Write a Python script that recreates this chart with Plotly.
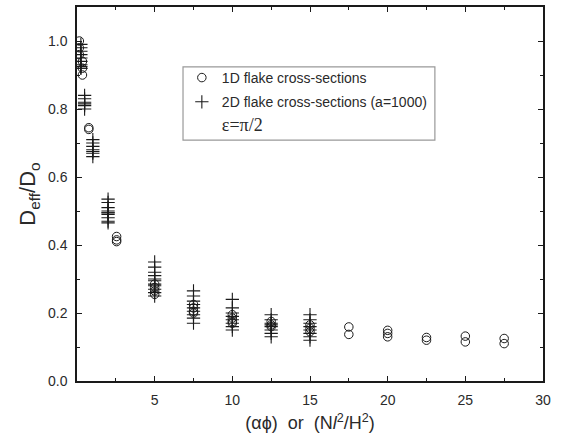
import plotly.graph_objects as go

# 1D flake cross-sections: x position and the stacked D_eff/D_o values at each
x_1d = [0.15, 0.35, 0.76, 2.55, 5, 7.5, 10, 12.5, 15, 17.5, 20, 22.5, 25, 27.5]
y_1d = [
    [1.00, 0.98, 0.96],
    [0.94, 0.92, 0.90],
    [0.745, 0.74],
    [0.425, 0.415, 0.41],
    [0.285, 0.275, 0.265, 0.255],
    [0.225, 0.215, 0.205, 0.20],
    [0.195, 0.185, 0.175, 0.17],
    [0.175, 0.165, 0.16],
    [0.165, 0.155, 0.145],
    [0.159, 0.137],
    [0.149, 0.14, 0.13],
    [0.128, 0.12],
    [0.132, 0.115],
    [0.125, 0.11],
]

# 2D flake cross-sections (a=1000)
x_2d = [0.25, 0.49, 1.02, 2.0, 5, 7.5, 10, 12.5, 15]
y_2d = [
    [0.99, 0.98, 0.97, 0.96, 0.95, 0.94, 0.93, 0.925, 0.92, 0.92],
    [0.84, 0.83, 0.82, 0.815, 0.81, 0.80],
    [0.71, 0.70, 0.69, 0.68, 0.675, 0.67, 0.66],
    [0.535, 0.525, 0.51, 0.50, 0.495, 0.495, 0.49, 0.48, 0.47, 0.465],
    [0.35, 0.335, 0.32, 0.31, 0.30, 0.295, 0.285, 0.28, 0.27, 0.26, 0.25],
    [0.265, 0.25, 0.235, 0.225, 0.215, 0.205, 0.195, 0.185, 0.17],
    [0.24, 0.215, 0.20, 0.19, 0.18, 0.17, 0.16, 0.15],
    [0.195, 0.18, 0.17, 0.165, 0.16, 0.15, 0.14, 0.13],
    [0.195, 0.18, 0.17, 0.16, 0.15, 0.14, 0.13, 0.12],
]

x_tickvals = [0, 5, 10, 15, 20, 25, 30]
x_ticktext = ["", "5", "10", "15", "20", "25", "30"]
y_tickvals = [0.0, 0.2, 0.4, 0.6, 0.8, 1.0]
y_ticktext = ["0.0", "0.2", "0.4", "0.6", "0.8", "1.0"]


def flatten(xs, groups):
    px, py = [], []
    for xv, g in zip(xs, groups):
        for yv in g:
            px.append(xv)
            py.append(yv)
    return px, py


cx, cy = flatten(x_1d, y_1d)
px_, py_ = flatten(x_2d, y_2d)

ink = "#1a1a1a"
sans = "Liberation Sans, Arial, sans-serif"

fig = go.Figure()
fig.add_trace(go.Scatter(
    x=cx, y=cy, mode="markers", name="1D flake cross-sections", legendgroup="a",
    marker=dict(symbol="circle-open", size=8.5, color=ink, line=dict(width=1, color=ink)),
))
fig.add_trace(go.Scatter(
    x=px_, y=py_, mode="markers", name="2D flake cross-sections (a=1000)", legendgroup="b",
    marker=dict(symbol="cross-thin-open", size=9.5, color=ink, line=dict(width=1.1, color=ink)),
))
fig.add_trace(go.Scatter(
    x=[None], y=[None], mode="markers", legendgroup="c",
    name='<span style="font-family:\'Liberation Serif\',serif;font-size:18px">ε=π/2</span>',
    marker=dict(color="rgba(0,0,0,0)", size=1),
))

axis_common = dict(
    showline=True, linecolor=ink, linewidth=1.5, mirror="allticks",
    ticks="inside", ticklen=5, tickwidth=1.2, tickcolor=ink,
    showgrid=False, zeroline=False, ticklabelstandoff=5,
    tickfont=dict(family=sans, size=14, color="#2a2a2a"),
)

fig.update_xaxes(
    range=[0, 30], tickmode="array", tickvals=x_tickvals, ticktext=x_ticktext,
    minor=dict(dtick=2.5, ticks="inside", ticklen=3, tickwidth=1.1, tickcolor=ink, showgrid=False),
    title=dict(text="(αϕ)&nbsp;&nbsp;or&nbsp;&nbsp;(N<i>l</i><sup>2</sup>/H<sup>2</sup>)",
               font=dict(family=sans, size=18, color="#2a2a2a"),
               standoff=10),
    **axis_common,
)
fig.update_yaxes(
    range=[0, 1.1], tickmode="array", tickvals=y_tickvals, ticktext=y_ticktext,
    minor=dict(dtick=0.1, ticks="inside", ticklen=3, tickwidth=1.1, tickcolor=ink, showgrid=False),
    title=dict(text="D<sub>eff</sub>/D<sub>o</sub>",
               font=dict(family=sans, size=22, color="#2a2a2a"),
               standoff=6),
    **axis_common,
)

fig.update_layout(
    width=563, height=438,
    margin=dict(l=77, r=20, t=5, b=57),
    paper_bgcolor="white", plot_bgcolor="white",
    showlegend=True,
    legend=dict(
        x=0.225, y=0.853, xanchor="left", yanchor="top",
        bgcolor="rgba(0,0,0,0)", borderwidth=0,
        font=dict(family=sans, size=14, color="#2a2a2a"),
        tracegroupgap=3, itemwidth=30,
    ),
    shapes=[dict(
        type="rect", xref="paper", yref="paper",
        x0=0.2275, x1=0.768, y0=0.644, y1=0.840,
        line=dict(color="#999", width=1.2), fillcolor="rgba(0,0,0,0)", layer="below",
    )],
)

fig.write_html("out.html")
